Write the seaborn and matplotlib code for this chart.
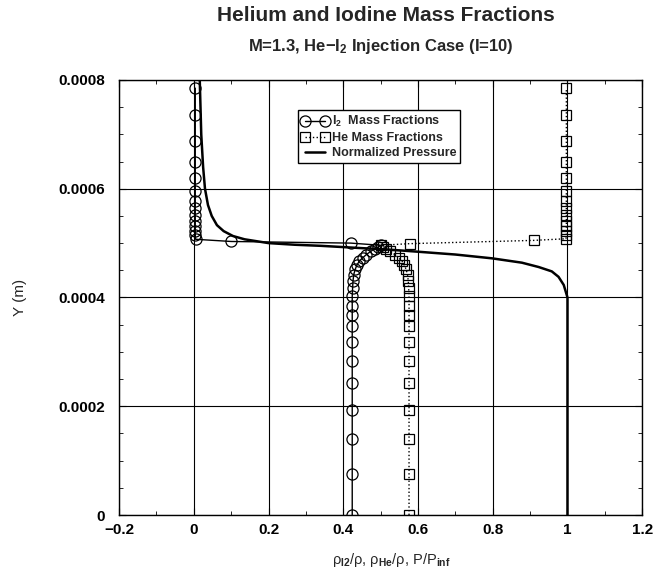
import matplotlib
matplotlib.use('Agg')
import matplotlib.pyplot as plt
from matplotlib.ticker import MultipleLocator, FuncFormatter
import seaborn as sns

# I2 mass fraction (circles, solid line), in path order
i2_x = [0.424, 0.424, 0.424, 0.424, 0.424, 0.424, 0.424, 0.424, 0.424, 0.424,
        0.424, 0.425, 0.426, 0.428, 0.432, 0.437, 0.443, 0.452, 0.462, 0.474,
        0.485, 0.494, 0.500, 0.420, 0.100, 0.005, 0.004, 0.004, 0.004, 0.004,
        0.004, 0.004, 0.004, 0.004, 0.004, 0.004, 0.004, 0.004, 0.004]
i2_y = [0.0, 0.0000757, 0.00014, 0.000194, 0.000242, 0.000283, 0.000319,
        0.000348, 0.000368, 0.000385, 0.000402, 0.000417, 0.00043, 0.000442,
        0.000452, 0.00046, 0.000467, 0.000473, 0.000479, 0.000485, 0.00049,
        0.000493, 0.000496, 0.0005, 0.000503, 0.000507, 0.000514, 0.000522,
        0.000531, 0.000541, 0.000552, 0.000565, 0.000578, 0.000596, 0.00062,
        0.00065, 0.000688, 0.000735, 0.000785]

# He mass fraction (squares, dotted line)
he_x = [0.576, 0.576, 0.576, 0.576, 0.576, 0.576, 0.576, 0.576, 0.576, 0.576,
        0.576, 0.575, 0.574, 0.572, 0.568, 0.563, 0.557, 0.548, 0.538, 0.526,
        0.515, 0.506, 0.500, 0.578, 0.910, 0.996, 0.997, 0.997, 0.997, 0.997,
        0.997, 0.997, 0.997, 0.997, 0.997, 0.997, 0.997, 0.997, 0.997]
he_y = [0.0, 0.0000757, 0.00014, 0.000194, 0.000242, 0.000283, 0.000319,
        0.000348, 0.000368, 0.000385, 0.000402, 0.000417, 0.00043, 0.000442,
        0.000452, 0.00046, 0.000467, 0.000473, 0.000479, 0.000485, 0.00049,
        0.000493, 0.000496, 0.000499, 0.000505, 0.000508, 0.000514, 0.000522,
        0.000531, 0.000541, 0.000552, 0.000565, 0.000578, 0.000596, 0.00062,
        0.00065, 0.000688, 0.000735, 0.000785]

# normalized pressure (thick solid line)
p_x = [1.0, 1.0, 0.99, 0.976, 0.958, 0.923, 0.878, 0.798, 0.70, 0.603, 0.523,
       0.443, 0.34, 0.27, 0.20, 0.136, 0.105, 0.08, 0.062, 0.048, 0.038, 0.03,
       0.025, 0.02, 0.016]
p_y = [0.0, 0.0004, 0.000423, 0.000438, 0.000448, 0.000456, 0.000464,
       0.000472, 0.000479, 0.000484, 0.000488, 0.000491, 0.000495, 0.000497,
       0.0005, 0.000507, 0.000513, 0.000522, 0.000533, 0.00055, 0.00057,
       0.0006, 0.00064, 0.0007, 0.0008]

sns.set_style('ticks')
plt.rcParams['font.family'] = ['Liberation Sans', 'DejaVu Sans']
plt.rcParams['font.weight'] = 'bold'
plt.rcParams['mathtext.fontset'] = 'custom'
plt.rcParams['mathtext.rm'] = 'Liberation Sans:bold'
plt.rcParams['mathtext.it'] = 'Liberation Sans:italic:bold'

fig, ax = plt.subplots(figsize=(6.54, 5.71), dpi=100)
fig.subplots_adjust(left=0.182, right=0.982, top=0.86, bottom=0.098)

sns.lineplot(x=i2_x, y=i2_y, sort=False, estimator=None, ax=ax, color='black',
             lw=1.0, marker='o', markersize=8, markerfacecolor='none',
             markeredgecolor='black', markeredgewidth=0.9,
             label='I$_2$  Mass Fractions')
sns.lineplot(x=he_x, y=he_y, sort=False, estimator=None, ax=ax, color='black',
             lw=1.0, linestyle=':', marker='s', markersize=7,
             markerfacecolor='none', markeredgecolor='black',
             markeredgewidth=0.9, label='He Mass Fractions')
sns.lineplot(x=p_x, y=p_y, sort=False, estimator=None, ax=ax, color='black',
             lw=1.8, label='Normalized Pressure')

ax.set_xlim(-0.2, 1.2)
ax.set_ylim(0, 0.0008)
ax.xaxis.set_major_locator(MultipleLocator(0.2))
ax.xaxis.set_minor_locator(MultipleLocator(0.1))
ax.yaxis.set_major_locator(MultipleLocator(0.0002))
ax.yaxis.set_minor_locator(MultipleLocator(0.00005))
fmt = FuncFormatter(lambda v, p: ('%g' % round(v, 6)).replace('-', '\u2212'))
ax.xaxis.set_major_formatter(fmt)
ax.yaxis.set_major_formatter(fmt)
ax.tick_params(which='both', direction='in', top=True, right=True,
               labelsize=11, colors='black')
ax.tick_params(which='major', length=5)
ax.tick_params(which='minor', length=3)
ax.tick_params(axis='y', pad=10)
ax.tick_params(axis='x', pad=6)
ax.grid(True, which='major', color='black', lw=0.8)
for s in ax.spines.values():
    s.set_color('black')
    s.set_linewidth(1.0)

ax.set_ylabel('Y (m)', fontsize=11)
ax.yaxis.set_label_coords(-0.175, 0.5)
ax.set_xlabel(r'ρ$_{\mathrm{I2}}$/ρ, ρ$_{\mathrm{He}}$/ρ, P/P$_{\mathrm{inf}}$',
              fontsize=10.5)
ax.xaxis.set_label_coords(0.52, -0.083)

fig.text(0.59, 0.99, 'Helium and Iodine Mass Fractions', ha='center',
         va='top', fontsize=15)
fig.text(0.583, 0.918, 'M=1.3, He\u2212I$_2$ Injection Case (I=10)',
         ha='center', va='center', fontsize=12)

leg = ax.legend(loc='upper left', bbox_to_anchor=(0.342, 0.93), fontsize=9,
                frameon=True, fancybox=False, edgecolor='black', framealpha=1,
                handlelength=2.2, handletextpad=0.2, borderpad=0.3,
                labelspacing=0.25, numpoints=2, borderaxespad=0)
leg.get_frame().set_linewidth(1.0)

fig.savefig('out.png', dpi=100)
